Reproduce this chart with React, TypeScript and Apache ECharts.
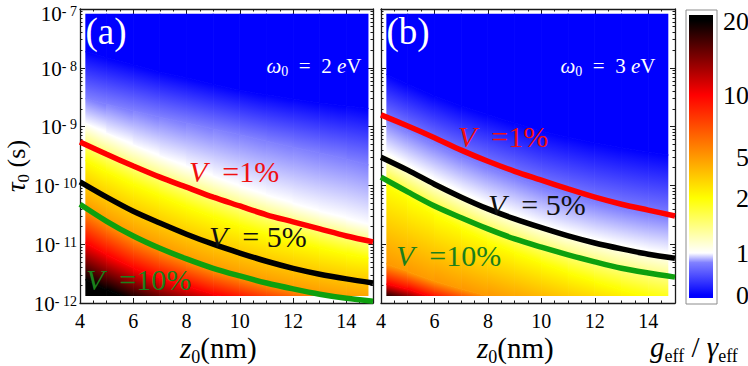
import React, { useEffect, useRef } from "react";
import * as echarts from "echarts";

const FAM = "Liberation Serif";
const F = (size: number, italic = false) => `${italic ? "italic " : ""}${size}px ${FAM}`;

// sampled z0 (nm)
const z0Samples = [4, 5, 6, 7, 8, 9, 10, 11, 12, 13, 14, 15];

// V contours, log10(tau0 / s) — panel (a) ω0 = 2 eV
const aV1 = [-9.26, -9.47, -9.67, -9.86, -10.03, -10.2, -10.35, -10.5, -10.62, -10.74, -10.86, -10.96];
const aV5 = [-9.94, -10.2, -10.44, -10.64, -10.83, -11.0, -11.15, -11.29, -11.41, -11.51, -11.59, -11.66];
const aV10 = [-10.32, -10.61, -10.86, -11.07, -11.25, -11.41, -11.54, -11.66, -11.76, -11.85, -11.92, -11.97];
// panel (b) ω0 = 3 eV
const bV1 = [-8.8, -8.99, -9.19, -9.4, -9.59, -9.76, -9.91, -10.06, -10.2, -10.32, -10.42, -10.52];
const bV5 = [-9.52, -9.74, -9.98, -10.2, -10.4, -10.57, -10.72, -10.86, -10.98, -11.08, -11.17, -11.24];
const bV10 = [-9.86, -10.11, -10.35, -10.55, -10.74, -10.91, -11.05, -11.18, -11.3, -11.41, -11.49, -11.56];

// g_eff / gamma_eff colour levels
const gLevels = [0, 0.5, 1, 2, 5, 10, 20];
const gColors = ["#0000ff", "#8080ff", "#ffffff", "#ffff00", "#ff9900", "#ff0000", "#000000"];

// log10 tau0 where g_eff/gamma_eff reaches each level — panel (a)
const aG0 = [-7.7, -7.83, -7.95, -8.07, -8.17, -8.28, -8.38, -8.46, -8.53, -8.6, -8.65, -8.7];
const aG05 = [-8.5, -8.62, -8.73, -8.84, -8.94, -9.04, -9.14, -9.25, -9.35, -9.45, -9.55, -9.67];
const aG1 = [-8.9, -9.11, -9.31, -9.5, -9.67, -9.84, -10.01, -10.16, -10.3, -10.44, -10.55, -10.69];
const aG2 = [-9.53, -9.77, -9.99, -10.18, -10.37, -10.54, -10.69, -10.83, -10.95, -11.06, -11.17, -11.25];
const aG5 = [-10.32, -10.61, -10.86, -11.06, -11.25, -11.41, -11.54, -11.66, -11.76, -11.85, -11.92, -11.97];
const aG10 = [-10.93, -11.18, -11.41, -11.58, -11.71, -11.85, -11.95, -12.05, -12.14, -12.2, -12.27, -12.32];
const aG20 = [-11.56, -11.78, -11.95, -12.1, -12.22, -12.32, -12.41, -12.49, -12.56, -12.63, -12.68, -12.73];
// panel (b)
const bG0 = [-8.07, -8.28, -8.48, -8.65, -8.8, -8.94, -9.08, -9.18, -9.28, -9.36, -9.43, -9.5];
const bG05 = [-8.85, -9.09, -9.31, -9.52, -9.7, -9.87, -10.04, -10.18, -10.3, -10.4, -10.49, -10.55];
const bG1 = [-9.4, -9.65, -9.89, -10.11, -10.32, -10.49, -10.66, -10.79, -10.91, -11.01, -11.1, -11.18];
const bG2 = [-9.96, -10.23, -10.5, -10.74, -10.96, -11.15, -11.32, -11.49, -11.64, -11.78, -11.9, -12.0];
const bG5 = [-11.3, -11.47, -11.63, -11.76, -11.88, -12.0, -12.14, -12.26, -12.37, -12.48, -12.58, -12.66];
const bG10 = [-11.66, -11.76, -11.92, -12.05, -12.17, -12.29, -12.41, -12.51, -12.61, -12.71, -12.8, -12.88];
const bG20 = [-11.88, -12.02, -12.17, -12.31, -12.44, -12.56, -12.68, -12.78, -12.88, -12.99, -13.07, -13.16];

// extent of the computed map
const hmZA = [4.2, 14.83];
const hmZB = [4.2, 14.75];
const hmLogTau = [-11.88, -7.08];

// axes
const xMajor = [4, 6, 8, 10, 12, 14];
const yMajor = [-12, -11, -10, -9, -8, -7];

// colour bar
const cbTicks = [0, 1, 2, 5, 10, 20];
const cbScaleValues = [0, 0.5, 1, 2, 5, 10, 20];
const cbScaleFrac = [0.01, 0.125, 0.159, 0.353, 0.498, 0.717, 0.98];

const xMinor: number[] = [];
for (let v = 4.5; v < 15; v += 0.5) if (!xMajor.includes(v)) xMinor.push(v);
const yMinor: number[] = [];
for (let n = -12; n < -7; n++) for (let k = 2; k <= 9; k++) yMinor.push(n + Math.log10(k));

function cbFrac(v: number): number {
  for (let i = 0; i < cbScaleValues.length - 1; i++) {
    const a = cbScaleValues[i], b = cbScaleValues[i + 1];
    if (v <= b) return cbScaleFrac[i] + ((v - a) / (b - a)) * (cbScaleFrac[i + 1] - cbScaleFrac[i]);
  }
  return cbScaleFrac[cbScaleFrac.length - 1];
}

// text measuring + composition of plain text pieces (sub/superscripts)
let measureCtx: CanvasRenderingContext2D | null = null;
function tw(text: string, font: string): number {
  if (!measureCtx) measureCtx = document.createElement("canvas").getContext("2d");
  if (!measureCtx) return text.length * 10;
  measureCtx.font = font;
  return measureCtx.measureText(text).width;
}
type Part = { t: string; s: number; it?: boolean; dy?: number };
function compose(x: number, baseline: number, parts: Part[], fill: string, align: "left" | "center" | "right", z = 100) {
  const widths = parts.map((p) => tw(p.t, F(p.s, p.it)));
  const total = widths.reduce((a, b) => a + b, 0);
  let cx = align === "left" ? x : align === "center" ? x - total / 2 : x - total;
  return parts.map((p, i) => {
    const el = {
      type: "text", x: cx, y: baseline - 0.3 * p.s + (p.dy || 0), z,
      style: { text: p.t, font: F(p.s, p.it), fill, align: "left", verticalAlign: "middle" },
    };
    cx += widths[i];
    return el;
  });
}

const AX = "#1a1a1a";

function xAx(grid: number, pos: string, major: boolean) {
  return {
    type: "value", gridIndex: grid, position: pos, min: 4, max: 15,
    axisLine: { show: major, onZero: false, lineStyle: { color: AX, width: 1.3 } },
    axisTick: { show: true, inside: true, length: major ? 5 : 2.5, customValues: major ? xMajor : xMinor, lineStyle: { color: AX, width: 1 } },
    axisLabel: { show: false },
    splitLine: { show: false },
  };
}

function yAx(grid: number, pos: string, major: boolean) {
  return {
    type: "value", gridIndex: grid, position: pos, min: -12, max: -7,
    axisLine: { show: major, onZero: false, lineStyle: { color: AX, width: 1.3 } },
    axisTick: { show: true, inside: true, length: major ? 5 : 2.5, customValues: major ? yMajor : yMinor, lineStyle: { color: AX, width: 1 } },
    axisLabel: { show: false },
    splitLine: { show: false },
  };
}

// tick labels placed through the axis scales
function yLabelSeries(xi: number, yi: number) {
  return {
    type: "custom", xAxisIndex: xi, yAxisIndex: yi, silent: true, z: 10, clip: false,
    data: yMajor.map((v) => [4, v]),
    renderItem: (params: any, api: any) => {
      const v = api.value(1) as number;
      const p = api.coord([api.value(0), v]);
      const base = p[1] + (v === yMajor[yMajor.length - 1] ? 11 : 7);
      return {
        type: "group",
        children: compose(p[0] - 3, base, [
          { t: "10", s: 21 },
          { t: `- ${Math.round(-v)}`, s: 14, dy: -4.5 },
        ], "#000", "right", 10),
      };
    },
  };
}

function xLabelSeries(xi: number, yi: number) {
  return {
    type: "custom", xAxisIndex: xi, yAxisIndex: yi, silent: true, z: 10, clip: false,
    data: xMajor.map((v) => [v, -12]),
    renderItem: (params: any, api: any) => {
      const v = api.value(0) as number;
      const p = api.coord([v, api.value(1)]);
      return { type: "group", children: compose(p[0], p[1] + 23.5, [{ t: String(v), s: 20 }], "#000", "center", 10) };
    },
  };
}

function bandRenderer(levels: number[][], zRange: number[]) {
  return (params: any, api: any) => {
    const i = api.value(0) as number;
    const b = api.value(1) as number;
    const nL = levels.length;
    const za = z0Samples[i], zb = z0Samples[i + 1];
    const up = b === 0 ? [hmLogTau[1] + 1, hmLogTau[1] + 1] : [levels[b - 1][i], levels[b - 1][i + 1]];
    const lo = b === nL ? [hmLogTau[0] - 1.5, hmLogTau[0] - 1.5] : [levels[b][i], levels[b][i + 1]];
    const A0 = api.coord([za, up[0]]), A1 = api.coord([zb, up[1]]);
    const B0 = api.coord([za, lo[0]]), B1 = api.coord([zb, lo[1]]);
    let fill: any;
    if (b === 0) fill = gColors[0];
    else if (b === nL) fill = gColors[nL - 1];
    else {
      const dx = A1[0] - A0[0];
      const dy = (A1[1] - A0[1] + (B1[1] - B0[1])) / 2;
      const len = Math.hypot(dx, dy);
      const nx = -dy / len, ny = dx / len;
      const amx = (A0[0] + A1[0]) / 2, amy = (A0[1] + A1[1]) / 2;
      const bmx = (B0[0] + B1[0]) / 2, bmy = (B0[1] + B1[1]) / 2;
      const proj = (bmx - amx) * nx + (bmy - amy) * ny;
      if (proj < 0.5) fill = gColors[b];
      else
        fill = new echarts.graphic.LinearGradient(amx, amy, amx + nx * proj, amy + ny * proj, [
          { offset: 0, color: gColors[b - 1] },
          { offset: 1, color: gColors[b] },
        ], true);
    }
    const c0 = api.coord([zRange[0], hmLogTau[1]]);
    const c1 = api.coord([zRange[1], hmLogTau[0]]);
    return {
      type: "polygon",
      shape: { points: [A0, A1, B1, B0] },
      style: { fill, stroke: fill, lineWidth: 0.8 },
      clipPath: { type: "rect", shape: { x: c0[0], y: c0[1], width: c1[0] - c0[0], height: c1[1] - c0[1] } },
    };
  };
}

const bandItems: number[][] = [];
for (let i = 0; i < z0Samples.length - 1; i++) for (let b = 0; b <= gLevels.length; b++) bandItems.push([i, b]);

function vLine(xi: number, yi: number, vals: number[], color: string) {
  return {
    type: "line", xAxisIndex: xi, yAxisIndex: yi,
    data: z0Samples.map((z, i) => [z, vals[i]]),
    showSymbol: false, symbol: "none", smooth: 0.3, clip: true, silent: true, z: 4,
    lineStyle: { color, width: 5.5 },
  };
}

function vLabel(x: number, base: number, rest: string, color: string) {
  return compose(x, base, [{ t: "V", s: 30, it: true }, { t: rest, s: 30 }], color, "left");
}

function buildOption() {
  const aLevels = [aG0, aG05, aG1, aG2, aG5, aG10, aG20];
  const bLevels = [bG0, bG05, bG1, bG2, bG5, bG10, bG20];
  const omega = (n: string) => [
    { t: "ω", s: 21, it: true },
    { t: "0", s: 14, dy: 4 },
    { t: `  =  ${n} `, s: 21 },
    { t: "e", s: 21, it: true },
    { t: "V", s: 21 },
  ];
  const zTitle = [{ t: "z", s: 29, it: true }, { t: "0", s: 18, dy: 5 }, { t: "(nm)", s: 29 }];
  const graphic: any[] = [
    { type: "rect", shape: { x: 686, y: 10, width: 31, height: 294 }, style: { fill: "none", stroke: "#8c8c8c", lineWidth: 1 }, z: 50 },
    ...compose(106, 43, [{ t: "(a)", s: 37 }], "#fff", "center"),
    ...compose(408, 43, [{ t: "(b)", s: 37 }], "#fff", "center"),
    ...compose(314, 72, omega("2"), "#fff", "center"),
    ...compose(608, 72, omega("3"), "#fff", "center"),
    ...vLabel(189, 180, "  =1%", "#f01010"),
    ...vLabel(209, 245, "  = 5%", "#111111"),
    ...vLabel(86, 288, "  =10%", "#1b7f1b"),
    ...vLabel(458, 145, "  =1%", "#f01010"),
    ...vLabel(488, 213, "  = 5%", "#111111"),
    ...vLabel(396, 264, "  =10%", "#1b7f1b"),
    ...compose(180, 357, zTitle, "#000", "left"),
    ...compose(477, 357, zTitle, "#000", "left"),
    ...compose(650, 356, [
      { t: "g", s: 29, it: true },
      { t: "eff", s: 18, dy: 5 },
      { t: " / ", s: 29 },
      { t: "γ", s: 29, it: true },
      { t: "eff", s: 18, dy: 5 },
    ], "#000", "left"),
    {
      type: "group", x: 16, y: 166, rotation: Math.PI / 2, z: 100,
      children: compose(0, 8, [{ t: "τ", s: 27, it: true }, { t: "0", s: 17, dy: 5 }, { t: " (s)", s: 26 }], "#000", "center"),
    },
  ];
  return {
    animation: false,
    backgroundColor: "#ffffff",
    grid: [
      { left: 80, top: 9, width: 293, height: 294 },
      { left: 381, top: 9, width: 294, height: 294 },
      { left: 689, top: 15, width: 24, height: 283 },
    ],
    xAxis: [
      xAx(0, "bottom", true), xAx(0, "bottom", false), xAx(0, "top", true), xAx(0, "top", false),
      xAx(1, "bottom", true), xAx(1, "bottom", false), xAx(1, "top", true), xAx(1, "top", false),
      { type: "value", gridIndex: 2, min: 0, max: 1, show: false },
    ],
    yAxis: [
      yAx(0, "left", true), yAx(0, "left", false), yAx(0, "right", true), yAx(0, "right", false),
      yAx(1, "left", true), yAx(1, "left", false), yAx(1, "right", true), yAx(1, "right", false),
      { type: "value", gridIndex: 2, min: 0, max: 1, show: false },
    ],
    series: [
      { type: "custom", xAxisIndex: 0, yAxisIndex: 0, renderItem: bandRenderer(aLevels, hmZA), data: bandItems, silent: true, z: 1 },
      { type: "custom", xAxisIndex: 4, yAxisIndex: 4, renderItem: bandRenderer(bLevels, hmZB), data: bandItems, silent: true, z: 1 },
      vLine(0, 0, aV1, "#ff0000"), vLine(0, 0, aV5, "#000000"), vLine(0, 0, aV10, "#0ea00e"),
      vLine(4, 4, bV1, "#ff0000"), vLine(4, 4, bV5, "#000000"), vLine(4, 4, bV10, "#0ea00e"),
      yLabelSeries(0, 0),
      xLabelSeries(0, 0),
      xLabelSeries(4, 4),
      {
        type: "custom", xAxisIndex: 8, yAxisIndex: 8, data: [[0.5, 0.5]], silent: true, z: 1,
        renderItem: (params: any, api: any) => {
          const p0 = api.coord([0, 0]), p1 = api.coord([1, 1]);
          const stops = [{ offset: 0, color: gColors[0] }]
            .concat(gLevels.map((v, i) => ({ offset: cbFrac(v), color: gColors[i] })))
            .concat([{ offset: 1, color: gColors[gColors.length - 1] }]);
          return {
            type: "rect",
            shape: { x: p0[0], y: p1[1], width: p1[0] - p0[0], height: p0[1] - p1[1] },
            style: { fill: new echarts.graphic.LinearGradient(0, 1, 0, 0, stops) },
          };
        },
      },
      {
        type: "custom", xAxisIndex: 8, yAxisIndex: 8, silent: true, z: 10, clip: false,
        data: cbTicks.map((v) => [1, cbFrac(v)]),
        renderItem: (params: any, api: any) => {
          const p = api.coord([1, api.value(1)]);
          return {
            type: "group",
            children: compose(p[0] + 36, p[1] + 8.5, [{ t: String(cbTicks[params.dataIndex]), s: 26 }], "#000", "right", 10),
          };
        },
      },
    ],
    graphic,
  };
}

export default function App() {
  const ref = useRef<HTMLDivElement>(null);
  useEffect(() => {
    if (!ref.current) return;
    const chart = echarts.init(ref.current, null, { renderer: "svg" });
    chart.setOption(buildOption() as any);
    return () => chart.dispose();
  }, []);
  return (
    <div
      ref={ref}
      style={{ position: "absolute", left: 0, top: 0, width: 748, height: 366, background: "#fff" }}
    />
  );
}
